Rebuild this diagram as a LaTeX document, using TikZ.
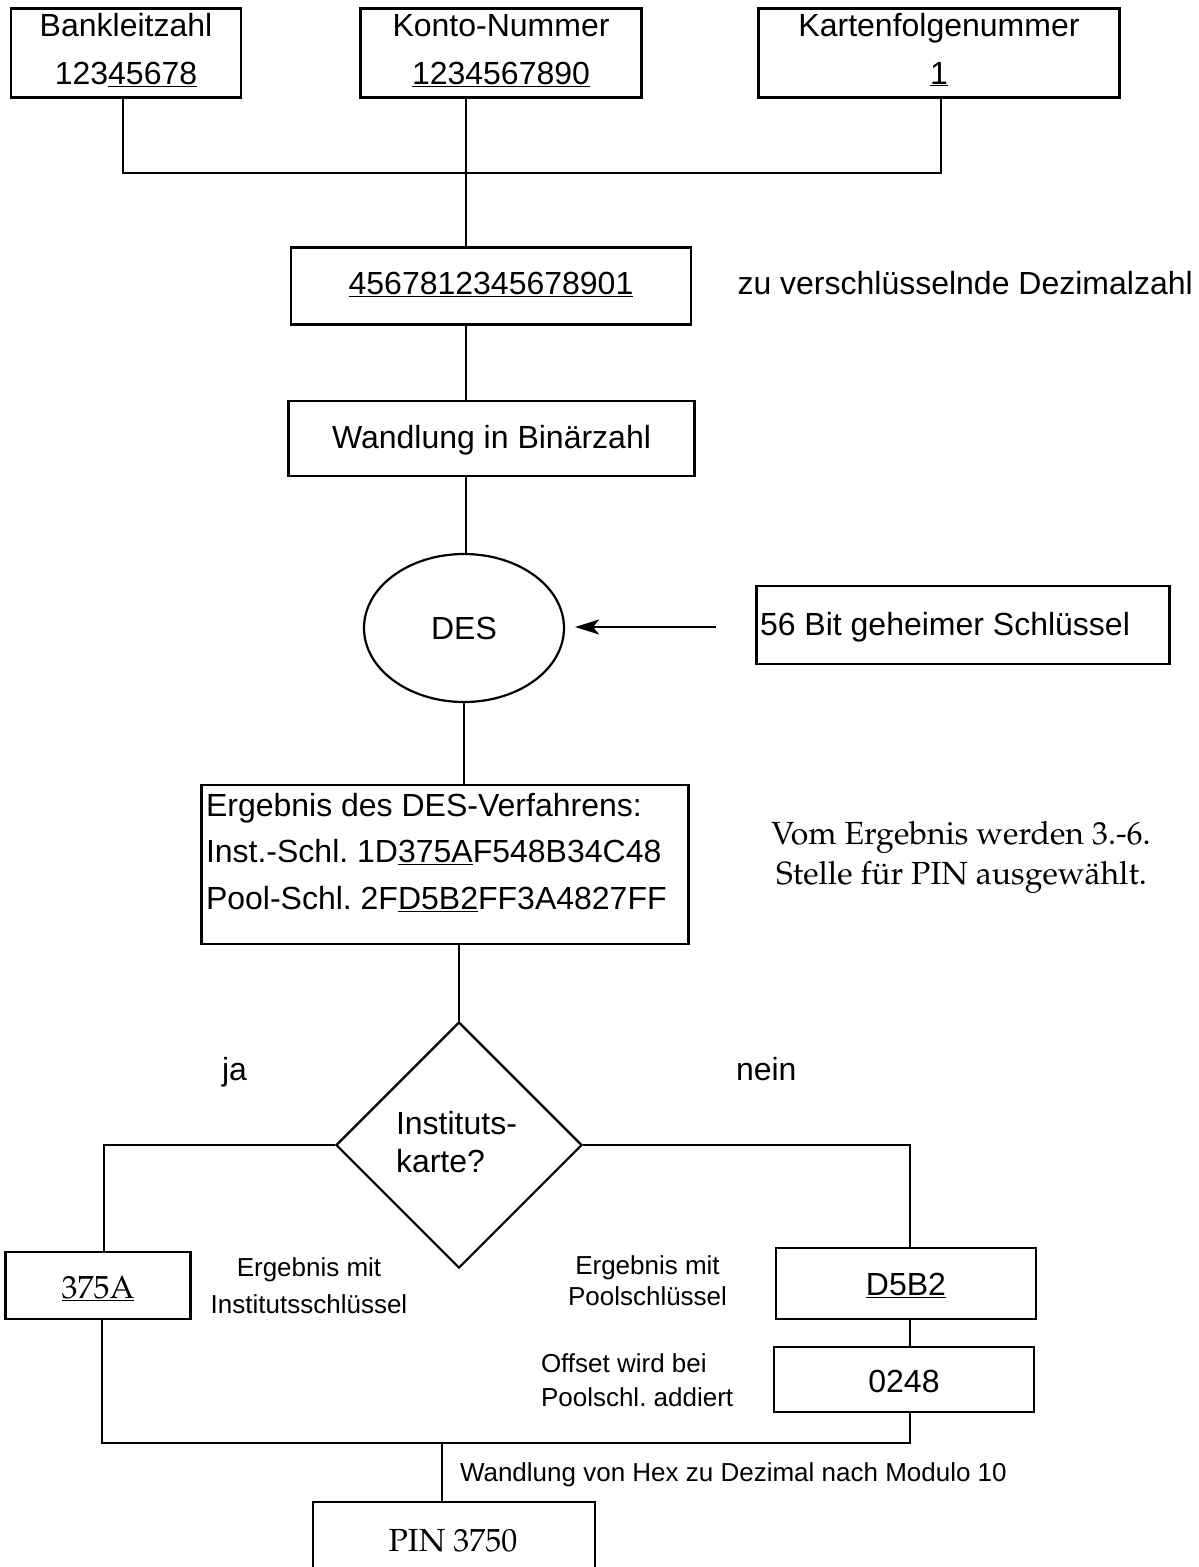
\documentclass[tikz,border=0pt]{standalone}
\usepackage[T1]{fontenc}
\usepackage{fontspec}
\setmainfont{Liberation Sans}
\usetikzlibrary{shapes.geometric,arrows.meta}
\newcommand\palfont{\fontencoding{T1}\fontfamily{ppl}\selectfont}
\newcommand\fbig{\fontsize{32}{38}\selectfont}
\newcommand\fsmall{\fontsize{26}{31}\selectfont}
\frenchspacing
\begin{document}
\begin{tikzpicture}[x=1pt,y=-1pt,
  boxnode/.style={draw,line width=2.2pt,rectangle,inner sep=0pt,outer sep=0pt},
  conn/.style={line width=2pt},
  t/.style={inner sep=0pt,outer sep=0pt,font=\fbig},
  ts/.style={inner sep=0pt,outer sep=0pt,font=\fsmall},
  tp/.style={inner sep=0pt,outer sep=0pt,font=\fbig\palfont},
  arr/.style={line width=2pt,-{Stealth[length=24pt,width=15pt,inset=6pt]}}]
\useasboundingbox (0,0) rectangle (1199,1567);

% boxes
\node[boxnode,minimum width=230pt,minimum height=89pt] (blz) at (126,53) {};
\node[boxnode,minimum width=281pt,minimum height=89pt] (kto) at (501,53) {};
\node[boxnode,minimum width=361pt,minimum height=89pt] (kfn) at (939,53) {};
\node[boxnode,minimum width=400pt,minimum height=77pt] (dez) at (491,286) {};
\node[boxnode,minimum width=406pt,minimum height=75pt] (wdl) at (491.5,438.5) {};
\node[draw,line width=2.2pt,ellipse,inner sep=0pt,minimum width=200pt,minimum height=148pt,font=\fbig] (des) at (464,628) {DES};
\node[boxnode,minimum width=413pt,minimum height=78pt] (key) at (963,625) {};
\node[boxnode,minimum width=487pt,minimum height=159pt] (res) at (445,864.5) {};
\node[draw,line width=2.2pt,diamond,inner sep=0pt,minimum width=246pt,minimum height=246pt] (dia) at (459,1145) {};
\node[boxnode,minimum width=185pt,minimum height=67pt] (boxA) at (98,1285.5) {};
\node[boxnode,minimum width=260pt,minimum height=71pt] (boxD) at (906,1283.5) {};
\node[boxnode,minimum width=260pt,minimum height=65pt] (boxO) at (904,1379.5) {};
\node[boxnode,minimum width=282pt,minimum height=100pt] (pin) at (454,1552) {};

% texts
\node[t,anchor=base] (tb1) at (126,36) {Bankleitzahl};
\node[t,anchor=base] (tb2) at (126,84) {123\underline{45678}};
\node[t,anchor=base] (tk1) at (501,36) {Konto-Nummer};
\node[t,anchor=base] (tk2) at (501,84) {\underline{1234567890}};
\node[t,anchor=base] (tf1) at (939,36) {Kartenfolgenummer};
\node[t,anchor=base] (tf2) at (939,84) {\underline{1}};
\node[t,anchor=base] (td) at (491,294) {\underline{4567812345678901}};
\node[t,anchor=base west] (tdz) at (737.5,294) {zu verschl\"usselnde Dezimalzahl};
\node[t,anchor=base] (tw) at (491.5,448) {Wandlung in Bin\"arzahl};
\node[t,anchor=base west] (tkey) at (760,635) {56 Bit geheimer Schl\"ussel};
\node[t,anchor=base west] (tr1) at (206,816) {Ergebnis des DES-Verfahrens:};
\node[t,anchor=base west] (tr2) at (206,862) {Inst.-Schl. 1D\underline{375A}F548B34C48};
\node[t,anchor=base west] (tr3) at (206,909) {Pool-Schl. 2F\underline{D5B2}FF3A4827FF};
\node[tp,anchor=base] (tv1) at (961,844) {Vom Ergebnis werden 3.-6.};
\node[tp,anchor=base] (tv2) at (961.5,884) {Stelle f\"ur PIN ausgew\"ahlt.};
\node[t,anchor=base west] (tja) at (222,1080) {ja};
\node[t,anchor=base west] (tnein) at (736,1080) {nein};
\node[t,anchor=base west] (ti1) at (396,1134) {Instituts-};
\node[t,anchor=base west] (ti2) at (396,1172) {karte?};
\node[tp,anchor=base] (tA) at (98,1298) {\underline{375A}};
\node[ts,anchor=base] (te1) at (309,1276) {Ergebnis mit};
\node[ts,anchor=base] (te2) at (309,1313) {Institutsschl\"ussel};
\node[ts,anchor=base] (tp1) at (647.5,1274) {Ergebnis mit};
\node[ts,anchor=base] (tp2) at (647.5,1305) {Poolschl\"ussel};
\node[t,anchor=base] (tD) at (906,1295) {\underline{D5B2}};
\node[t,anchor=base] (tO) at (904,1392) {0248};
\node[ts,anchor=base west] (to1) at (541,1372) {Offset wird bei};
\node[ts,anchor=base west] (to2) at (541,1406) {Poolschl. addiert};
\node[ts,anchor=base west] (thex) at (460,1481) {Wandlung von Hex zu Dezimal nach Modulo 10};
\node[tp,anchor=base] (tpin) at (453,1551) {PIN 3750};

% connectors
\coordinate (jL) at (123,173);
\coordinate (jM) at (466,173);
\coordinate (jR) at (941,173);
\draw[conn] (blz.south -| jL) -- (jL) -- (jR) -- (kfn.south -| jR);
\draw[conn] (kto.south -| jM) -- (dez.north -| jM);
\draw[conn] (dez.south -| jM) -- (wdl.north -| jM);
\draw[conn] (wdl.south -| jM) -- (des.north -| jM);
\coordinate (ka) at (716,627);
\draw[arr,shorten >=10pt] (ka) -- (ka -| des.east);
\draw[conn] (des.south) -- (des.south |- res.north);
\draw[conn] (dia.north |- res.south) -- (dia.north);
\coordinate (cL) at (104,1145);
\coordinate (cR) at (910,1145);
\draw[conn] (dia.west) -- (cL) -- (cL |- boxA.north);
\draw[conn] (dia.east) -- (cR) -- (cR |- boxD.north);
\draw[conn] (boxD.south -| cR) -- (boxO.north -| cR);
\coordinate (bB) at (102,1443);
\coordinate (bM) at (442,1443);
\draw[conn] (boxA.south -| bB) -- (bB) -- (bB -| cR) -- (boxO.south -| cR);
\draw[conn] (bM) -- (pin.north -| bM);
\end{tikzpicture}
\end{document}
